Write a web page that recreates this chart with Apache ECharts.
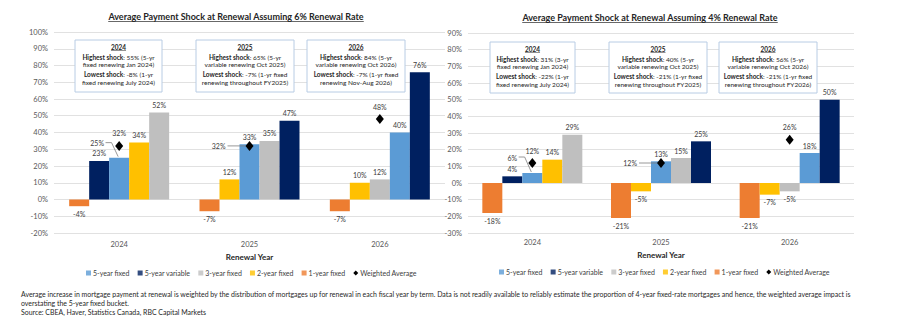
<!DOCTYPE html>
<html><head><meta charset="utf-8">
<script src="https://cdn.jsdelivr.net/npm/echarts@6/dist/echarts.min.js"></script>
<style>html,body{margin:0;padding:0;background:#fff}#c{width:897px;height:321px}</style>
</head><body><div id="c"></div>
<script>
// ---------- data ----------
const years = ['2024', '2025', '2026'];
const termNames = ['5-year fixed', '5-year variable', '3-year fixed', '2-year fixed', '1-year fixed'];
const avgName = 'Weighted Average';
const axisTitle = 'Renewal Year';
const yTicks6 = { min: -20, max: 100, step: 10 };
const yTicks4 = { min: -30, max: 90, step: 10 };

// 6% renewal rate scenario
const fixed5_r6 = [25, 33, 40];
const variable5_r6 = [23, 47, 76];
const fixed3_r6 = [52, 35, 12];
const fixed2_r6 = [34, 12, 10];
const fixed1_r6 = [-4, -7, -7];
const weighted_r6 = [32, 32, 48];

// 4% renewal rate scenario
const fixed5_r4 = [6, 13, 18];
const variable5_r4 = [4, 25, 50];
const fixed3_r4 = [29, 15, -5];
const fixed2_r4 = [14, -5, -7];
const fixed1_r4 = [-18, -21, -21];
const weighted_r4 = [12, 12, 26];

const titles = [
  'Average Payment Shock at Renewal Assuming 6% Renewal Rate',
  'Average Payment Shock at Renewal Assuming 4% Renewal Rate'
];
const notes_r6 = [
  ['2024', 'Highest shock', ': 55% (5-yr', 'fixed renewing Jan 2024)', 'Lowest shock', ': -8% (1-yr', 'fixed renewing July 2024)'],
  ['2025', 'Highest shock', ': 65% (5-yr', 'variable renewing Oct 2025)', 'Lowest shock', ': -7% (1-yr fixed', 'renewing throughout FY2025)'],
  ['2026', 'Highest shock', ': 84% (5-yr', 'variable renewing Oct 2026)', 'Lowest shock', ': -7% (1-yr fixed', 'renewing Nov-Aug 2026)']
];
const notes_r4 = [
  ['2024', 'Highest shock', ': 31% (3-yr', 'fixed renewing Jan 2024)', 'Lowest shock', ': -22% (1-yr', 'fixed renewing July 2024)'],
  ['2025', 'Highest shock', ': 40% (5-yr', 'variable renewing Oct 2025)', 'Lowest shock', ': -21% (1-yr fixed', 'renewing throughout FY2025)'],
  ['2026', 'Highest shock', ': 56% (5-yr', 'variable renewing Oct 2026)', 'Lowest shock', ': -21% (1-yr fixed', 'renewing throughout FY2026)']
];
const footnote = [
  'Average increase in mortgage payment at renewal is weighted by the distribution of mortgages up for renewal in each fiscal year by term. Data is not readily available to reliably estimate the proportion of 4-year fixed-rate mortgages and hence, the weighted average impact is',
  'overstating the 5-year fixed bucket.',
  'Source: CBEA, Haver, Statistics Canada, RBC Capital Markets'
];

// ---------- style ----------
const FONT = 'Lato, "Open Sans", sans-serif';
const termColors = ['#5B9BD5', '#002060', '#BFBFBF', '#FFC000', '#ED7D31'];
const labelColor = '#404040';
const axisColor = '#595959';
const LBL = 7;
const BARW = 20;
const labelBase = { show: true, formatter: '{c}%', color: labelColor, fontSize: LBL, fontFamily: FONT,
  distance: 4, textBorderWidth: 0, opacity: 1 };

const charts = [
  { values: [fixed5_r6, variable5_r6, fixed3_r6, fixed2_r6, fixed1_r6], avg: weighted_r6, ticks: yTicks6,
    grid: { left: 54, top: 32, width: 391, height: 201 }, nameGap: 18, labelMargin: 7,
    moved: [{ year: 0, term: 0, dx: -22, dy: -7 }], avgMoved: [{ year: 1, dx: -16 }],
    notes: notes_r6, boxes: [[75, 40, 87, 52], [196, 40, 98, 52], [307, 40, 98, 52]],
    title: [236, 16], legend: [81, 264.5] },
  { values: [fixed5_r4, variable5_r4, fixed3_r4, fixed2_r4, fixed1_r4], avg: weighted_r4, ticks: yTicks4,
    grid: { left: 468, top: 33, width: 386, height: 200 }, nameGap: 16, labelMargin: 5,
    moved: [{ year: 0, term: 0, dx: -20, dy: -8 }], avgMoved: [{ year: 1, dx: -16 }],
    notes: notes_r4, boxes: [[490, 42, 85, 51], [609, 42, 98, 51], [719, 42, 98, 51]],
    title: [650, 17], legend: [494, 263.5] }
];

const cv = document.createElement('canvas').getContext('2d');
function textW(t, size, weight) { cv.font = (weight || 'normal') + ' ' + size + 'px Lato'; return cv.measureText(t).width; }

const grids = [], xAxes = [], yAxes = [], series = [], legends = [], graphics = [];
const layoutMap = {};

charts.forEach((c, ci) => {
  const leaderData = []; // [year, value, kind(0 bar / 1 avg), slot, dx, dy, labelWidth]
  grids.push(c.grid);
  xAxes.push({ type: 'category', gridIndex: ci, data: years,
    axisLine: { show: false, onZero: false }, axisTick: { show: false },
    axisLabel: { color: axisColor, fontSize: 7.5, fontFamily: FONT, margin: c.labelMargin },
    name: axisTitle, nameLocation: 'middle', nameGap: c.nameGap,
    nameTextStyle: { fontWeight: 'bold', fontSize: 8, color: '#262626', fontFamily: FONT } });
  yAxes.push({ type: 'value', gridIndex: ci, min: c.ticks.min, max: c.ticks.max, interval: c.ticks.step,
    axisLine: { show: false }, axisTick: { show: false },
    axisLabel: { formatter: '{value}%', color: axisColor, fontSize: 7.5, fontFamily: FONT, margin: 6 },
    splitLine: { lineStyle: { color: '#D9D9D9', width: 0.8 } } });

  const order = years.map((_, y) => [0, 1, 2, 3, 4].sort((a, b) => c.values[a][y] - c.values[b][y]));
  for (let s = 0; s < 5; s++) {
    const sIdx = series.length;
    series.push({
      type: 'bar', name: 'slot' + ci + s, xAxisIndex: ci, yAxisIndex: ci, barWidth: BARW, barGap: '0%',
      data: years.map((_, y) => {
        const t = order[y][s], v = c.values[t][y];
        const mv = c.moved.find(m => m.year === y && m.term === t);
        if (mv) {
          layoutMap[sIdx + '-' + y] = { dx: mv.dx, dy: mv.dy };
          leaderData.push([y, v, 0, s, mv.dx, mv.dy, textW(v + '%', LBL)]);
        }
        return { value: v, itemStyle: { color: termColors[t] },
          label: { position: v < 0 ? 'bottom' : 'top', color: labelColor } };
      }),
      label: labelBase,
      labelLayout: p => layoutMap[p.seriesIndex + '-' + p.dataIndex] || {}
    });
  }
  const aIdx = series.length;
  series.push({
    type: 'scatter', name: avgName, xAxisIndex: ci, yAxisIndex: ci, symbol: 'diamond', symbolSize: [8, 10],
    itemStyle: { color: '#000', opacity: 1 }, z: 5,
    data: c.avg.map((v, y) => {
      const mv = c.avgMoved.find(m => m.year === y);
      if (mv) {
        layoutMap[aIdx + '-' + y] = { dx: mv.dx };
        leaderData.push([y, v, 1, 2, mv.dx, 0, textW(v + '%', LBL)]);
      }
      return { value: v, label: { position: mv ? 'left' : 'top', color: labelColor } };
    }),
    label: labelBase,
    labelLayout: p => layoutMap[p.seriesIndex + '-' + p.dataIndex] || {}
  });

  // label leader lines, placed through the axes' own coordinate conversion
  series.push({
    type: 'custom', name: 'leaders' + ci, xAxisIndex: ci, yAxisIndex: ci, z: 4, silent: true,
    encode: { x: 0, y: 1 },
    data: leaderData,
    renderItem: (params, api) => {
      const p = api.coord([api.value(0), api.value(1)]);
      const kind = api.value(2), slot = api.value(3), dx = api.value(4), dy = api.value(5), w = api.value(6);
      const st = { stroke: '#7F7F7F', lineWidth: 0.8, fill: null };
      if (kind === 0) {
        const bx = p[0] + (slot - 2) * BARW, by = p[1];
        const lx = bx + dx, ly = by - 4 - LBL / 2 - 0.5 + dy;
        const x0 = lx + w / 2 + 1.5;
        return { type: 'polyline', shape: { points: [[x0, ly], [x0 + 6, ly], [bx - 1, by - 1]] }, style: st };
      }
      const right = p[0] - 8 + dx;
      return { type: 'line', shape: { x1: right + 2, y1: p[1], x2: p[0] - 4, y2: p[1] }, style: st };
    }
  });

  legends.push({ left: c.legend[0], top: c.legend[1], itemWidth: 5, itemHeight: 5, itemGap: 8,
    textStyle: { fontSize: 7, color: labelColor, fontFamily: FONT, padding: [0, 0, 0, -3] },
    selectedMode: false,
    data: termNames.map(n => ({ name: n, icon: 'rect' })).concat([{ name: avgName, icon: 'diamond', itemStyle: { color: '#000' } }]) });

  const tw = textW(titles[ci], 9, 'bold');
  graphics.push({ type: 'text', x: c.title[0], y: c.title[1],
    style: { text: titles[ci], font: 'bold 9px ' + FONT, fill: '#262626', align: 'center', verticalAlign: 'middle' } });
  graphics.push({ type: 'line', shape: { x1: c.title[0] - tw / 2, y1: c.title[1] + 5.5, x2: c.title[0] + tw / 2, y2: c.title[1] + 5.5 },
    style: { stroke: '#262626', lineWidth: 0.7 } });

  c.boxes.forEach((b, bi) => {
    const n = c.notes[bi];
    const cx = b[0] + b[2] / 2;
    graphics.push({ type: 'rect', shape: { x: b[0], y: b[1], width: b[2], height: b[3] },
      style: { fill: '#fff', stroke: '#B8CCE4', lineWidth: 1 }, z: 10 });
    const rich = { b: { fontWeight: 'bold', fontSize: 6.5, fontFamily: FONT, fill: '#262626' },
                   n: { fontSize: 6.5, fontFamily: FONT, fill: '#262626' } };
    const lines = [
      [7, '{b|' + n[0] + '}'],
      [17, '{b|' + n[1] + '}{n|' + n[2] + '}'],
      [24.5, '{n|' + n[3] + '}'],
      [34, '{b|' + n[4] + '}{n|' + n[5] + '}'],
      [42, '{n|' + n[6] + '}']
    ];
    lines.forEach(l => graphics.push({ type: 'text', x: cx, y: b[1] + l[0], z: 11,
      style: { text: l[1], rich: rich, align: 'center', verticalAlign: 'middle' } }));
    const yw = textW(n[0], 6.5, 'bold');
    graphics.push({ type: 'line', z: 11, shape: { x1: cx - yw / 2, y1: b[1] + 10.5, x2: cx + yw / 2, y2: b[1] + 10.5 },
      style: { stroke: '#262626', lineWidth: 0.5 } });
  });
});

termNames.forEach((n, i) => series.push({ type: 'scatter', name: n, xAxisIndex: 0, yAxisIndex: 0, data: [], itemStyle: { color: termColors[i] } }));

[294, 303, 312].forEach((y, i) => graphics.push({ type: 'text', x: 21, y: y,
  style: { text: footnote[i], font: '6.95px ' + FONT, fill: '#262626', verticalAlign: 'middle' } }));

const chart = echarts.init(document.getElementById('c'), null, { renderer: 'svg' });
chart.setOption({
  animation: false,
  textStyle: { fontFamily: FONT },
  grid: grids, xAxis: xAxes, yAxis: yAxes, series: series, legend: legends, graphic: graphics
});
</script></body></html>
